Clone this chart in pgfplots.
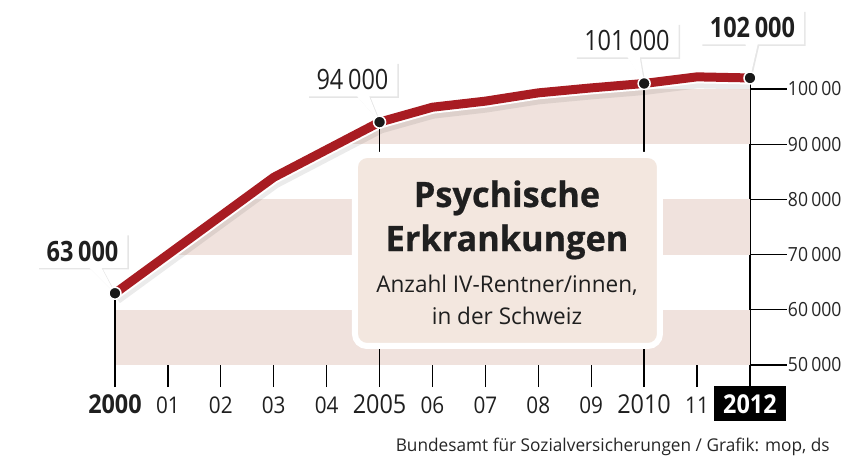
\documentclass[border=0pt]{standalone}
\usepackage{pgfplots}
\pgfplotsset{compat=1.18}
\usetikzlibrary{shapes.callouts,shadows}
\usepackage{fontspec}
\setmainfont{Open Sans}[FakeStretch=0.84]
\newfontfamily\titlefont{Open Sans}[FakeStretch=0.98, FakeBold=0.6]
\newfontfamily\txtfont{Open Sans}[FakeStretch=0.98]
\newfontfamily\srcfont{Open Sans}[FakeStretch=0.98]
\newfontfamily\tickfont{Open Sans}[FakeStretch=0.9]
\definecolor{linered}{RGB}{168,28,34}
\definecolor{bandcol}{RGB}{240,226,221}
\definecolor{boxfill}{RGB}{243,231,223}
\newcommand\fbig{\tickfont\fontsize{26pt}{26pt}\selectfont}
\newcommand\fsm{\tickfont\fontsize{23pt}{23pt}\selectfont}
\pgfplotstableread{
year value
2000 63000
2001 70000
2002 77000
2003 84000
2004 89000
2005 94000
2006 96700
2007 97800
2008 99300
2009 100200
2010 101000
2011 102200
2012 102000
}\datatable
\begin{document}
\begin{tikzpicture}
\begin{axis}[
  scale only axis, width=635pt, height=314.64pt,
  xmin=2000, xmax=2012, ymin=46000, ymax=103000,
  clip=false,
  scaled y ticks=false,
  axis x line*=bottom, axis y line*=right,
  x axis line style={draw=none},
  y axis line style={line width=1.6pt, black},
  xtick={2000,...,2012},
  xtick style={draw=none},
  xtick align=inside,
  xticklabels={{\fbig\bfseries 2000},{\fsm 01},{\fsm 02},{\fsm 03},{\fsm 04},{\fbig 2005},{\fsm 06},{\fsm 07},{\fsm 08},{\fsm 09},{\fbig 2010},{\fsm 11},{\fbig\bfseries\setlength\fboxsep{8pt}\colorbox{black}{\hspace{1pt}\color{white}2012\hspace{1pt}}}},
  xticklabel style={anchor=base, yshift=-26pt, inner sep=0pt, text=black!88},
  ytick={50000,60000,70000,80000,90000,100000},
  yticklabels={50\,000,60\,000,70\,000,80\,000,90\,000,100\,000},
  ytick align=outside,
  major tick length=37pt,
  ytick style={line width=1.2pt, black},
  yticklabel style={font=\tickfont\fontsize{19.5pt}{19.5pt}\selectfont, anchor=west, inner sep=1pt, text=black!85},
]
% horizontal bands
\addplot[fill=bandcol, draw=none, forget plot] coordinates {(2000,50000)(2012,50000)(2012,60000)(2000,60000)} -- cycle;
\addplot[fill=bandcol, draw=none, forget plot] coordinates {(2000,70000)(2012,70000)(2012,80000)(2000,80000)} -- cycle;
\addplot[fill=bandcol, draw=none, forget plot] coordinates {(2000,90000)(2012,90000)(2012,100000)(2000,100000)} -- cycle;
% white above the curve, so that the bands show only below it
\addplot[fill=white, draw=none, forget plot] coordinates {(2000,63000)(2001,70000)(2002,77000)(2003,84000)(2004,89000)(2005,94000)(2006,96700)(2007,97800)(2008,99300)(2009,100200)(2010,101000)(2011,102200)(2012,102000)(2012,100000)(2000,100000)} -- cycle;
% line with halo
\addplot[draw=black, opacity=0.08, line width=17pt, yshift=-3pt, line join=round, forget plot] table[x=year, y=value] {\datatable};
\addplot[draw=white, line width=13pt, line join=round, forget plot] table[x=year, y=value] {\datatable};
% year ticks
\addplot[black, line width=1.2pt, unbounded coords=jump, forget plot] coordinates {
 (2001,46000)(2001,50000)(2001,nan)
 (2002,46000)(2002,50000)(2002,nan)
 (2003,46000)(2003,50000)(2003,nan)
 (2004,46000)(2004,50000)(2004,nan)
 (2006,46000)(2006,50000)(2006,nan)
 (2007,46000)(2007,50000)(2007,nan)
 (2008,46000)(2008,50000)(2008,nan)
 (2009,46000)(2009,50000)(2009,nan)
 (2011,46000)(2011,50000)};
\addplot[black, line width=1.8pt, unbounded coords=jump, forget plot] coordinates {
 (2000,46000)(2000,63000)(2000,nan)
 (2005,46000)(2005,94000)(2005,nan)
 (2010,46000)(2010,101000)};
\addplot[draw=linered, line width=9pt, line join=round, forget plot] table[x=year, y=value] {\datatable};
% title box
\node[draw=white, line width=6pt, fill=boxfill, rounded corners=12pt, minimum width=305pt, minimum height=191pt, inner sep=0pt] at (axis cs:2007.417,70743) {};
\node[anchor=base, inner sep=0pt, font=\titlefont\bfseries\fontsize{35pt}{35pt}\selectfont, text=black!88] at (axis cs:2007.408,78623) {Psychische};
\node[anchor=base, inner sep=0pt, font=\titlefont\bfseries\fontsize{35pt}{35pt}\selectfont, text=black!88] at (axis cs:2007.408,70650) {Erkrankungen};
\node[anchor=base, inner sep=0pt, font=\txtfont\fontsize{23pt}{23pt}\selectfont, text=black!88] at (axis cs:2007.408,63043) {Anzahl IV-Rentner/innen,};
\node[anchor=base, inner sep=0pt, font=\txtfont\fontsize{23pt}{23pt}\selectfont, text=black!88] at (axis cs:2007.408,57246) {in der Schweiz};
% value labels
\tikzset{vlab/.style={rectangle callout, fill=white, inner xsep=9pt, minimum height=34pt, callout pointer width=12pt, text=black!88, font=\fontsize{28pt}{28pt}\selectfont, drop shadow={opacity=0.2, shadow xshift=1.5pt, shadow yshift=-1.5pt}}}
\node[vlab, font=\bfseries\fontsize{28pt}{28pt}\selectfont, callout absolute pointer={(axis cs:2000,63000)}] at (axis cs:1999.386,70652) {63\,000};
\node[vlab, callout absolute pointer={(axis cs:2005,94000)}] at (axis cs:2004.488,101721) {94\,000};
\node[vlab, callout absolute pointer={(axis cs:2010,101000)}] at (axis cs:2009.675,108786) {101\,000};
\node[vlab, font=\bfseries\fontsize{28pt}{28pt}\selectfont, callout absolute pointer={(axis cs:2012,102000)}] at (axis cs:2012.047,111141) {102\,000};
\addplot[only marks, mark=*, mark size=6pt, mark options={fill=black!90, draw=white, line width=1.5pt}, forget plot]
  coordinates {(2000,63000)(2005,94000)(2010,101000)(2012,102000)};
\node[anchor=base east, inner sep=0pt, font=\srcfont\fontsize{17.6pt}{17.6pt}\selectfont, text=black!85] at (axis cs:2013.510,34239) {Bundesamt für Sozialversicherungen / Grafik: mop, ds};
\coordinate (BL) at (axis cs:1997.827,33514);
\coordinate (TR) at (axis cs:2013.720,116123);
\end{axis}
\pgfresetboundingbox
\useasboundingbox (BL) rectangle (TR);
\end{tikzpicture}
\end{document}
